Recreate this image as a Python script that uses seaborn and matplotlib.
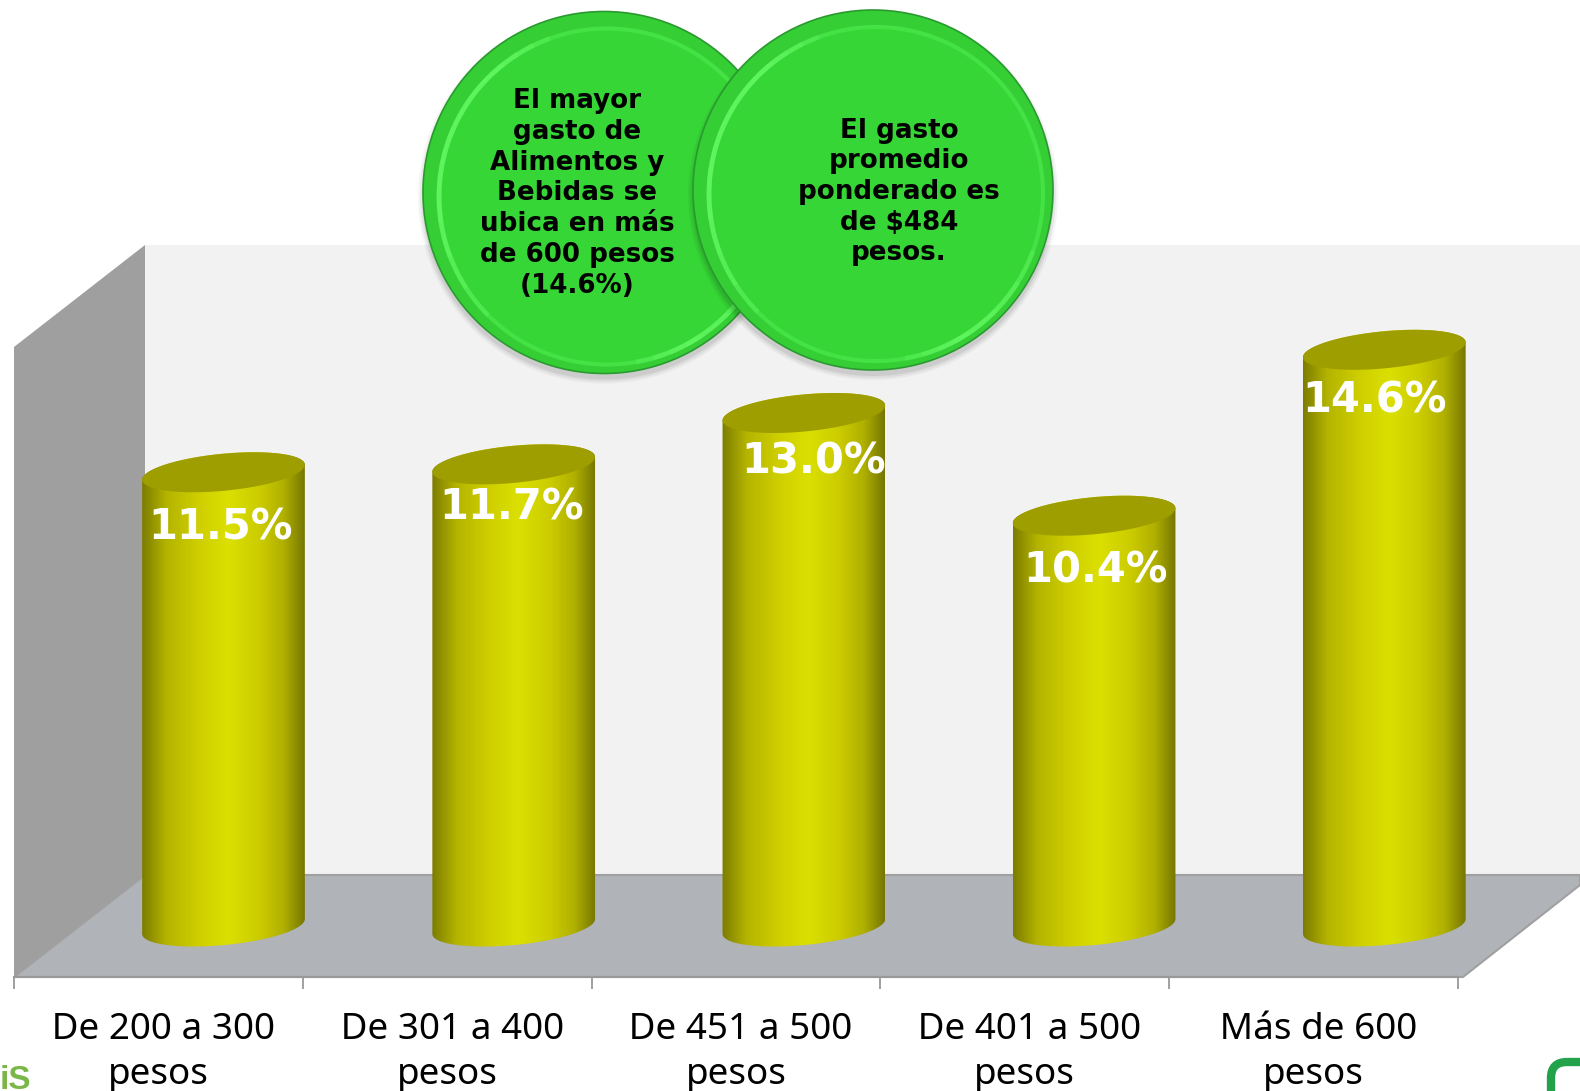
import numpy as np
import pandas as pd
import seaborn as sns
import matplotlib.pyplot as plt
from matplotlib.colors import LinearSegmentedColormap
from matplotlib.patches import Arc, Circle, FancyBboxPatch, Polygon

categories = ["De 200 a 300", "De 301 a 400", "De 451 a 500", "De 401 a 500", "Más de 600"]
values = [11.5, 11.7, 13.0, 10.4, 14.6]
value_labels = ["11.5%", "11.7%", "13.0%", "10.4%", "14.6%"]
note_left = "El mayor\ngasto de\nAlimentos y\nBebidas se\nubica en más\nde 600 pesos\n(14.6%)"
note_right = "El gasto\npromedio\nponderado es\nde $484\npesos."

W, H = 1580, 1091
px_x, px_y = 290.2, 39.5   # pixels per category / per percent
base_y = 926.5             # pixel row of value 0
first_x = 223.5            # pixel column of the first bar
left, right, axis_y = 14, 1458, 977

sns.set_style("white")
plt.rcParams["font.family"] = ["Noto Sans", "DejaVu Sans"]

fig = plt.figure(figsize=(W / 100, H / 100), dpi=100, facecolor="white")

# room behind the bars, in pixels
bg = fig.add_axes([0, 0, 1, 1], zorder=0)
bg.set_xlim(0, W)
bg.set_ylim(H, 0)
bg.axis("off")
bg.add_patch(Polygon([(145, 245), (W, 245), (W, 875), (145, 875)], fc="#f2f2f2", ec="none"))
bg.add_patch(Polygon([(14, 347), (145, 245), (145, 875), (14, axis_y)], fc="#9f9f9f", ec="none"))
bg.add_patch(Polygon([(14, axis_y), (145, 875), (W, 875), (W, 885), (1463, axis_y)],
                     fc="#b0b3b8", ec="#a0a0a0", lw=1.5))
bg.text(0, 1089, "iS", color="#7ab648", fontsize=24, fontweight="bold",
        family="Liberation Sans", va="baseline", ha="left")
bg.add_patch(FancyBboxPatch((1551, 1062), 80, 80, boxstyle="round,pad=0,rounding_size=16",
                            fc="none", ec="#22a24b", lw=6))

# bars
ax = fig.add_axes([left / W, (H - axis_y) / H, (right - left) / W, axis_y / H], zorder=1)
ax.patch.set_visible(False)
df = pd.DataFrame({"rango": categories, "pct": values})
sns.barplot(data=df, x="rango", y="pct", width=163 / px_x, color="#cccc00", ax=ax)

xlim = ((left - first_x) / px_x, (right - first_x) / px_x)
ylim = ((base_y - axis_y) / px_y, base_y / px_y)

shade = LinearSegmentedColormap.from_list("cyl", [
    (0.0, "#7c7c00"), (0.15, "#b4b400"), (0.35, "#cfcf00"), (0.53, "#dbe000"),
    (0.72, "#cccc00"), (0.87, "#b0b000"), (1.0, "#767600")])

a, b, tilt = 81.7, 18.5, np.radians(5.5)
t0 = np.arctan2(-b * np.sin(tilt), a * np.cos(tilt))


def arc(cx, cy, start, stop):
    t = np.linspace(start, stop, 80)
    ex = (a * np.cos(t) * np.cos(tilt) - b * np.sin(t) * np.sin(tilt)) / px_x
    ey = (a * np.cos(t) * np.sin(tilt) + b * np.sin(t) * np.cos(tilt)) / px_y
    return np.column_stack([cx + ex, cy + ey])


offsets = [(-3, -55), (-2, -43), (10, -48), (1, -55), (-10, -51)]
for patch, val, lab, off in zip(list(ax.patches), values, value_labels, offsets):
    patch.set_visible(False)
    cx = patch.get_x() + patch.get_width() / 2
    outline = np.vstack([arc(cx, 0, t0 + np.pi, t0 + 2 * np.pi), arc(cx, val, t0, t0 + np.pi)])
    clip = Polygon(outline, transform=ax.transData, fc="none", ec="none")
    im = ax.imshow(np.linspace(0, 1, 256)[None, :], cmap=shade, aspect="auto", vmin=0, vmax=1,
                   extent=(patch.get_x(), patch.get_x() + patch.get_width(), -1.0, val + 1.0), zorder=2)
    im.set_clip_box(fig.bbox)
    im.set_clip_path(clip)
    ax.fill(*arc(cx, val, 0, 2 * np.pi).T, color="#9e9e00", lw=0, zorder=3, clip_on=False)
    ax.annotate(lab, xy=(cx, val), xytext=off, textcoords="offset pixels", ha="center", va="center",
                color="white", fontsize=30, fontweight="bold", family="DejaVu Sans", zorder=4)

ax.set_xlim(xlim)
ax.set_ylim(ylim)
ax.set_xlabel("")
ax.set_ylabel("")
ax.set_yticks([])
edges = np.linspace(xlim[0], xlim[1], 6)
ax.set_xticks(edges)
ax.set_xticklabels([])
ax.set_xticks((edges[:-1] + edges[1:]) / 2, minor=True)
ax.set_xticklabels([" " + c + "\npesos" for c in categories], minor=True, fontsize=26.5,
                   linespacing=1.36)
ax.tick_params(axis="x", which="major", length=8.6, width=1.3, color="#999999", bottom=True)
ax.tick_params(axis="x", which="minor", length=0, pad=25, colors="black")
for name, sp in ax.spines.items():
    sp.set_visible(name == "bottom")
    sp.set_color("#999999")
    sp.set_linewidth(1.5)

# the two green notes, in pixels
top = fig.add_axes([0, 0, 1, 1], zorder=2)
top.set_xlim(0, W)
top.set_ylim(H, 0)
top.axis("off")


def bubble(x, y, r, text, tx, ty):
    for grow, alpha in zip([5, 3, 1], [0.04, 0.05, 0.07]):
        top.add_patch(Circle((x, y + 5), r + grow, fc="black", ec="none", alpha=alpha))
    top.add_patch(Circle((x, y), r, fc="#35cf35", ec="#2a9a30", lw=1.2))
    top.add_patch(Circle((x + 3, y + 4), r - 13, fc="#36d636", ec="#44e244", lw=3))
    d = 2 * (r - 13)
    # highlight fades out towards the ends of each arc
    for spread in [0, 12, 24, 36]:
        for start, stop in [(135, 250), (20, 80)]:
            top.add_patch(Arc((x + 3, y + 4), d, d, theta1=start + spread, theta2=stop - spread / 2,
                              ec="#66fb66", lw=3.5, alpha=0.3))
    top.text(tx, ty, text, ha="center", va="center", fontsize=18.8, fontweight="bold",
             family="DejaVu Sans", color="black", linespacing=1.236)


bubble(604, 192.5, 181, note_left, 577, 193.5)
bubble(873, 190, 180, note_right, 899, 192)

fig.savefig("out.png", dpi=100)
